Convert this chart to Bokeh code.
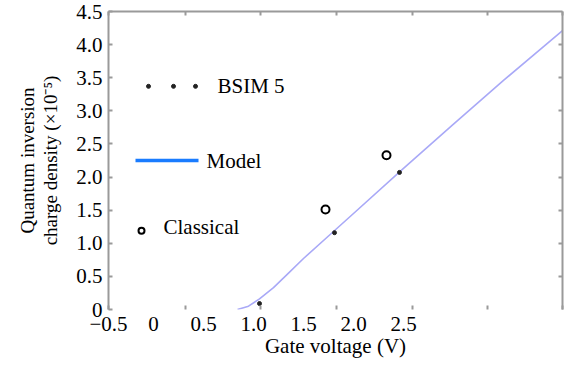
from bokeh.plotting import figure
from bokeh.models import Range1d, LinearAxis, FixedTicker, Label
from bokeh.embed import file_html
from bokeh.resources import INLINE

# ---- data ----
model_x = [0.84, 0.95, 1.06, 1.20, 1.35, 1.50, 1.75, 2.00, 2.50, 3.00, 3.50, 4.09]
model_y = [0.00, 0.05, 0.16, 0.33, 0.55, 0.77, 1.11, 1.45, 2.13, 2.80, 3.46, 4.21]
bsim_x = [1.06, 1.81, 2.46]
bsim_y = [0.09, 1.16, 2.07]
classical_x = [1.72, 2.33]
classical_y = [1.51, 2.33]
x_tick_labels = [-0.5, 0.0, 0.5, 1.0, 1.5, 2.0, 2.5]
x_tick_marks = [-0.45, 0.32, 1.07, 1.83, 2.59, 3.34, 4.09]
y_ticks = [0.5, 1.0, 1.5, 2.0, 2.5, 3.0, 3.5, 4.0]
y_tick_labels = [0, 0.5, 1.0, 1.5, 2.0, 2.5, 3.0, 3.5, 4.0, 4.5]

FONT = "Liberation Serif"
FS = "21px"
GRAY = "#9a9a9a"
XS, XE = -0.45, 4.09

p = figure(width=564, height=365, output_backend="svg", toolbar_location=None,
           x_range=Range1d(XS, XE), y_range=Range1d(0, 4.5),
           x_axis_location=None, y_axis_location=None,
           min_border_left=108, min_border_right=2, min_border_top=11, min_border_bottom=56)
p.grid.visible = False
p.outline_line_color = None
p.background_fill_color = "white"

def fmt(v):
    return "0" if v == 0 else ("\u2212" + f"{abs(v):.1f}" if v < 0 else f"{v:.1f}")

# bottom axis (labels where the reference prints them, tick marks separately)
x_label_pos = [max(v, XS) for v in x_tick_labels]
xb = LinearAxis(ticker=FixedTicker(ticks=x_label_pos, minor_ticks=x_tick_marks),
                axis_label="Gate voltage (V)")
xb.major_label_overrides = {pos: fmt(v) for pos, v in zip(x_label_pos, x_tick_labels)}
xb.axis_line_color = None
xb.major_tick_in = 0
xb.major_tick_out = 0
xb.minor_tick_in = 4
xb.minor_tick_out = 0
xb.minor_tick_line_color = GRAY
xb.minor_tick_line_width = 2
xb.major_label_standoff = 7
xb.axis_label_standoff = 0
xb.major_label_text_font = FONT
xb.major_label_text_font_size = FS
xb.major_label_text_color = "black"
xb.axis_label_text_font = FONT
xb.axis_label_text_font_size = FS
xb.axis_label_text_font_style = "normal"
xb.axis_label_text_color = "black"
p.add_layout(xb, "below")

# left axis
yl = LinearAxis(ticker=FixedTicker(ticks=y_tick_labels),
                axis_label="Quantum inversion\ncharge density (\u00d710\u207b\u2075)")
yl.major_label_overrides = {v: fmt(v) for v in y_tick_labels}
yl.axis_line_color = GRAY
yl.axis_line_width = 2
yl.major_tick_in = 4
yl.major_tick_out = 0
yl.major_tick_line_color = GRAY
yl.major_tick_line_width = 2
yl.minor_tick_line_color = None
yl.major_label_standoff = 6
yl.axis_label_standoff = 12
yl.major_label_text_font = FONT
yl.major_label_text_font_size = FS
yl.major_label_text_color = "black"
yl.axis_label_text_font = FONT
yl.axis_label_text_font_size = "19px"
yl.axis_label_text_line_height = 1.1
yl.axis_label_text_font_style = "normal"
yl.axis_label_text_color = "black"
p.add_layout(yl, "left")

# right axis (box side, no labels)
yr = LinearAxis(ticker=FixedTicker(ticks=y_ticks))
yr.axis_line_color = GRAY
yr.axis_line_width = 2
yr.major_tick_in = 4
yr.major_tick_out = 0
yr.major_tick_line_color = GRAY
yr.major_tick_line_width = 2
yr.minor_tick_line_color = None
yr.major_label_text_font_size = "1px"
yr.major_label_text_alpha = 0
yr.major_label_standoff = 0
p.add_layout(yr, "right")

# top axis (box side, no labels)
xt = LinearAxis(ticker=FixedTicker(ticks=x_tick_marks))
xt.axis_line_color = GRAY
xt.axis_line_width = 2
xt.major_tick_in = 4
xt.major_tick_out = 0
xt.major_tick_line_color = GRAY
xt.major_tick_line_width = 2
xt.minor_tick_line_color = None
xt.major_label_text_font_size = "1px"
xt.major_label_text_alpha = 0
xt.major_label_standoff = 0
p.add_layout(xt, "above")

# data
p.line(model_x, model_y, line_color="#a9a9f7", line_width=1.6)
p.scatter(bsim_x, bsim_y, marker="circle", size=4, fill_color="#222222", line_color="#222222")
p.scatter(classical_x, classical_y, marker="circle", size=8, fill_color=None,
          line_color="black", line_width=2)

# hand-placed legend (matches the reference layout)
leg_dots_x = [-0.05, 0.20, 0.42]
leg_y1, leg_y2, leg_y3 = 3.37, 2.25, 1.19
p.scatter(leg_dots_x, [leg_y1] * 3, marker="circle", size=4, fill_color="#222222", line_color="#222222")
p.line([-0.18, 0.45], [leg_y2, leg_y2], line_color="#1a7cff", line_width=3.5)
p.scatter([-0.12], [leg_y3], marker="circle", size=6, fill_color=None, line_color="black", line_width=2)
for tx, ty, txt in [(0.64, leg_y1, "BSIM 5"), (0.53, leg_y2, "Model"), (0.10, 1.25, "Classical")]:
    p.add_layout(Label(x=tx, y=ty, text=txt, text_font=FONT, text_font_size=FS,
                       text_color="black", text_baseline="middle", text_align="left"))

open("out.html", "w").write(file_html(p, INLINE))
